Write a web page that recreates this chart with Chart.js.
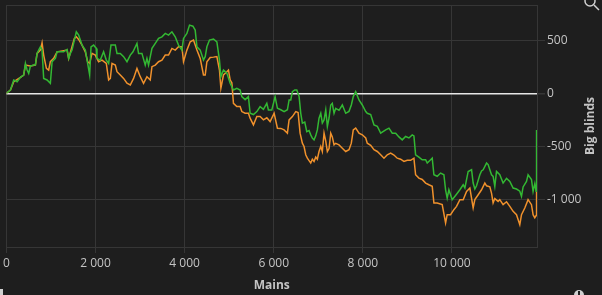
<!DOCTYPE html>
<html>
<head>
<meta charset="utf-8">
<script src="https://cdn.jsdelivr.net/npm/chart.js@4.4.1/dist/chart.umd.min.js"></script>
<style>
  html, body { margin: 0; padding: 0; background: #1e1e1e; }
  #wrap { width: 602px; height: 295px; position: relative; }
</style>
</head>
<body>
<div id="wrap"><canvas id="graph"></canvas></div>
<script>
// Gains (big blinds) en fonction du nombre de mains
const greenHands = [0, 90, 164, 240, 314, 388, 426, 464, 500, 538, 612, 650, 688, 724, 762, 800, 836, 912, 986, 1025,
  1099, 1137, 1211, 1285, 1361, 1397, 1435, 1473, 1525, 1569, 1621, 1697, 1771, 1823, 1868, 1899, 1957, 2018, 2033, 2107,
  2181, 2242, 2294, 2347, 2444, 2482, 2556, 2630, 2706, 2780, 2841, 2930, 2966, 3042, 3116, 3154, 3190, 3267, 3341, 3415,
  3491, 3565, 3639, 3715, 3789, 3863, 3939, 3975, 4051, 4110, 4186, 4237, 4276, 4350, 4423, 4462, 4500, 4558, 4648, 4724,
  4782, 4814, 4872, 4948, 5022, 5096, 5172, 5246, 5284, 5358, 5432, 5470, 5545, 5621, 5695, 5769, 5845, 5881, 5957, 6031,
  6083, 6159, 6233, 6307, 6345, 6383, 6419, 6473, 6518, 6570, 6607, 6643, 6697, 6742, 6793, 6831, 6867, 6905, 6943, 6979,
  7017, 7056, 7091, 7130, 7168, 7204, 7242, 7280, 7315, 7354, 7392, 7466, 7540, 7616, 7690, 7742, 7786, 7840, 7914, 7988,
  8065, 8100, 8177, 8251, 8325, 8401, 8513, 8587, 8661, 8737, 8811, 8885, 8961, 9035, 9109, 9147, 9185, 9259, 9333, 9410,
  9446, 9522, 9558, 9596, 9670, 9746, 9820, 9858, 9894, 9932, 10006, 10082, 10179, 10253, 10291, 10365, 10441, 10477, 10515, 10553,
  10627, 10665, 10701, 10778, 10813, 10851, 10889, 10925, 10963, 11001, 11075, 11149, 11226, 11300, 11374, 11450, 11524, 11562, 11598, 11674,
  11710, 11786, 11822, 11860, 11890, 11900];
const greenBB = [0, 31, 125, 109, 150, 172, 281, 219, 187, 256, 265, 265, 375, 406, 437, 406, 140, 125, 94, 297,
  328, 390, 390, 390, 412, 328, 375, 406, 500, 578, 547, 453, 406, 281, 172, 437, 453, 422, 328, 312,
  390, 312, 281, 453, 453, 375, 375, 344, 297, 359, 390, 469, 375, 375, 265, 328, 265, 422, 469, 516,
  531, 563, 547, 578, 531, 453, 406, 516, 563, 641, 631, 594, 437, 406, 312, 344, 437, 500, 510, 484,
  312, 156, 219, 190, 94, 31, 47, 31, -31, -60, -31, -188, -200, -172, -125, -150, -94, -156, -156, -31,
  -141, -155, -172, -155, -63, -63, 15, 31, 31, -31, -188, -281, -270, -360, -350, -391, -422, -438, -400, -344,
  -234, -188, -280, -250, -156, -313, -230, -110, -94, -188, -141, -160, -110, -188, -170, -110, -31, 15, -63, -110,
  -172, -188, -200, -297, -310, -375, -344, -328, -375, -375, -410, -438, -406, -420, -391, -400, -578, -600, -625, -625,
  -656, -625, -610, -766, -780, -750, -766, -907, -985, -907, -1000, -960, -907, -860, -890, -735, -719, -844, -900, -870,
  -766, -730, -719, -656, -670, -719, -766, -781, -875, -735, -766, -844, -800, -828, -891, -900, -920, -969, -880, -828,
  -766, -810, -922, -850, -920, -344];

const orangeHands = [0, 90, 164, 314, 388, 426, 538, 650, 688, 762, 800, 836, 897, 948, 986, 1060, 1137, 1361, 1397, 1525,
  1569, 1621, 1697, 1771, 1823, 1868, 1921, 1995, 2069, 2146, 2242, 2294, 2332, 2370, 2444, 2482, 2556, 2630, 2706, 2780,
  2854, 2930, 3004, 3078, 3154, 3228, 3267, 3341, 3415, 3491, 3565, 3639, 3715, 3789, 3863, 3939, 3975, 4051, 4125, 4199,
  4276, 4350, 4423, 4462, 4500, 4574, 4648, 4724, 4782, 4814, 4872, 4948, 4984, 5022, 5060, 5096, 5172, 5246, 5284, 5358,
  5432, 5470, 5545, 5621, 5695, 5769, 5845, 5919, 6009, 6083, 6159, 6233, 6307, 6345, 6419, 6495, 6547, 6592, 6643, 6681,
  6719, 6755, 6831, 6867, 6905, 6943, 6979, 7017, 7056, 7091, 7130, 7168, 7204, 7242, 7280, 7315, 7354, 7392, 7466, 7540,
  7616, 7690, 7742, 7786, 7840, 7914, 7988, 8065, 8100, 8177, 8251, 8325, 8401, 8475, 8549, 8625, 8699, 8773, 8849, 8923,
  8997, 9073, 9147, 9185, 9259, 9333, 9410, 9483, 9558, 9596, 9670, 9782, 9858, 9894, 9970, 10044, 10104, 10179, 10253, 10329,
  10403, 10477, 10515, 10590, 10665, 10739, 10778, 10851, 10889, 10925, 10963, 11037, 11075, 11149, 11226, 11300, 11374, 11450, 11524, 11562,
  11636, 11710, 11786, 11822, 11860, 11890, 11900];
const orangeBB = [0, 31, 109, 150, 172, 265, 256, 265, 375, 406, 475, 359, 234, 218, 297, 328, 390, 406, 328, 516,
  531, 506, 453, 390, 297, 281, 375, 359, 297, 312, 281, 125, 140, 281, 265, 203, 172, 140, 94, 78,
  140, 234, 156, 94, 156, 125, 250, 265, 297, 312, 359, 359, 422, 406, 437, 437, 297, 406, 484, 500,
  406, 328, 172, 172, 297, 337, 340, 345, 219, 47, 172, 203, 219, 125, 100, -94, -125, -125, -172, -188,
  -188, -234, -297, -219, -219, -250, -230, -266, -188, -328, -330, -344, -375, -250, -219, -172, -180, -375, -469, -500,
  -578, -610, -656, -620, -641, -600, -620, -547, -500, -547, -375, -450, -547, -520, -375, -410, -485, -470, -485, -516,
  -547, -530, -469, -344, -328, -375, -390, -420, -469, -490, -531, -547, -578, -610, -578, -563, -580, -610, -620, -641,
  -630, -630, -610, -766, -797, -810, -844, -860, -875, -1031, -1031, -1047, -1219, -1141, -1141, -1094, -1063, -1000, -1000, -922,
  -891, -1078, -1000, -954, -907, -844, -870, -880, -938, -1031, -990, -1016, -1000, -1047, -1020, -1063, -1110, -1141, -1235, -1141,
  -1078, -1000, -1047, -1141, -1170, -1150, -880];

const xTicks = [0, 2000, 4000, 6000, 8000, 10000];
const yTicks = [-1000, -500, 0, 500];

const gridColor = '#363636';
const textColor = '#c4c4c4';

// format "2 000", "-1 000"
const fmt = (v) => {
  const s = String(Math.abs(v)).replace(/\B(?=(\d{3})+(?!\d))/g, ' ');
  return (v < 0 ? '-' : '') + s;
};

const toPoints = (xs, ys) => xs.map((x, i) => ({ x: x, y: ys[i] }));

// cadre + titre vertical + petites icônes
const decor = {
  id: 'decor',
  beforeDatasetsDraw(chart) {
    const { ctx, chartArea: a } = chart;
    ctx.save();
    ctx.strokeStyle = gridColor;
    ctx.lineWidth = 1;
    ctx.beginPath();
    ctx.moveTo(a.left, a.top + 0.5);
    ctx.lineTo(a.right, a.top + 0.5);
    ctx.stroke();
    ctx.restore();
  },
  afterDraw(chart) {
    const { ctx, chartArea: a } = chart;
    ctx.save();
    ctx.fillStyle = textColor;
    ctx.font = 'bold 12px "Open Sans"';
    ctx.translate(591, (a.top + a.bottom) / 2);
    ctx.rotate(-Math.PI / 2);
    ctx.textAlign = 'center';
    ctx.textBaseline = 'middle';
    ctx.fillText('Big blinds', 0, 0);
    ctx.restore();

    // loupe (coin haut droit)
    ctx.save();
    ctx.strokeStyle = '#d0d0d0';
    ctx.lineWidth = 1.5;
    ctx.beginPath();
    ctx.arc(590, 1, 5, 0, Math.PI * 2);
    ctx.stroke();
    ctx.beginPath();
    ctx.moveTo(594, 5);
    ctx.lineTo(599, 10);
    ctx.stroke();
    // info (coin bas droit)
    ctx.fillStyle = '#d0d0d0';
    ctx.beginPath();
    ctx.arc(579, 295, 5, 0, Math.PI * 2);
    ctx.fill();
    ctx.fillStyle = '#1e1e1e';
    ctx.fillRect(578, 291, 2, 4);
    // petit repère bas gauche
    ctx.fillStyle = '#d0d0d0';
    ctx.fillRect(0, 289, 3, 6);
    ctx.restore();
  }
};

new Chart(document.getElementById('graph'), {
  type: 'line',
  data: {
    datasets: [
      {
        label: 'Net',
        data: toPoints(greenHands, greenBB),
        borderColor: '#33b833',
        borderWidth: 1.5,
        pointRadius: 0,
        tension: 0,
      },
      {
        label: 'Showdown',
        data: toPoints(orangeHands, orangeBB),
        borderColor: '#f0912c',
        borderWidth: 1.5,
        pointRadius: 0,
        tension: 0,
      },
    ],
  },
  options: {
    responsive: true,
    maintainAspectRatio: false,
    animation: false,
    layout: { padding: { left: 6, right: 0, top: 5, bottom: 0 } },
    plugins: { legend: { display: false }, tooltip: { enabled: false } },
    scales: {
      x: {
        type: 'linear',
        min: 0,
        max: 11910,
        afterFit: (scale) => { scale.height = 48; },
        afterBuildTicks: (scale) => { scale.ticks = xTicks.map((v) => ({ value: v })); },
        ticks: {
          color: textColor,
          font: { family: 'Open Sans', size: 12 },
          maxRotation: 0,
          autoSkip: false,
          padding: 3,
          callback: (v) => fmt(v),
        },
        grid: { color: gridColor, tickLength: 6, tickColor: gridColor },
        border: { color: gridColor },
        title: {
          display: true,
          text: 'Mains',
          color: textColor,
          font: { family: 'Open Sans', size: 12, weight: 'bold' },
          padding: { top: 0, bottom: 2 },
        },
      },
      y: {
        position: 'right',
        min: -1445,
        max: 830,
        afterFit: (scale) => {
          scale.width = 65;
          scale.paddingTop = 0;
          scale.paddingBottom = 0;
        },
        afterBuildTicks: (scale) => { scale.ticks = yTicks.map((v) => ({ value: v })); },
        ticks: {
          color: textColor,
          font: { family: 'Open Sans', size: 12 },
          autoSkip: false,
          padding: 2,
          callback: (v) => fmt(v),
        },
        grid: {
          color: (c) => (c.tick && c.tick.value === 0 ? '#e6e6e6' : gridColor),
          lineWidth: (c) => (c.tick && c.tick.value === 0 ? 1.5 : 1),
          tickLength: 8,
          tickColor: gridColor,
        },
        border: { color: gridColor },
      },
    },
  },
  plugins: [decor],
});
</script>
</body>
</html>
